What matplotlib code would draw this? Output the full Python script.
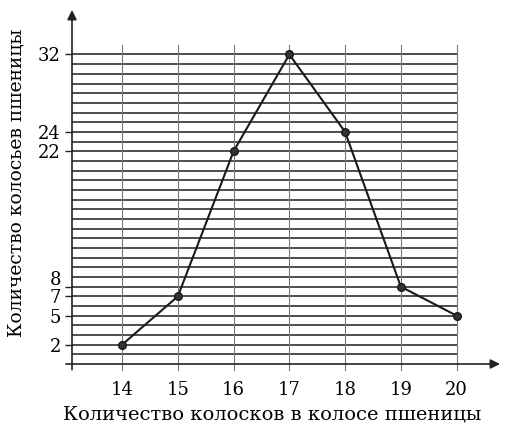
import matplotlib
matplotlib.use("Agg")
import matplotlib.pyplot as plt
import matplotlib.transforms as mtransforms

x_vals = [14, 15, 16, 17, 18, 19, 20]
y_vals = [2, 7, 22, 32, 24, 8, 5]
y_ticks = [2, 5, 7, 8, 22, 24, 32]
grid_levels = list(range(1, 33))
x_label = "Количество колосков в колосе пшеницы"
y_label = "Количество колосьев пшеницы"

W, H = 510, 437
fig = plt.figure(figsize=(W / 100, H / 100), dpi=100)
plt.rcParams['font.family'] = ['DejaVu Serif']
left, right, bottom, top = 72 / W, 500 / W, (H - 364) / H, (H - 10) / H
ax = fig.add_axes([left, bottom, right - left, top - bottom])
x0, x1 = 13.1, 20.78
y0, y1 = 0, 36.6
ax.set_xlim(x0, x1)
ax.set_ylim(y0, y1)
for s in ax.spines.values():
    s.set_visible(False)

# grid
for g in grid_levels:
    ax.plot([x0, x_vals[-1]], [g, g], color="#1e1e1e", lw=1.1, zorder=1)
for xv in x_vals:
    ax.plot([xv, xv], [-0.6, 33], color="#777777", lw=0.8, zorder=1, clip_on=False)

# axes with arrows
ax.annotate("", xy=(x1, 0), xytext=(12.99, 0),
            arrowprops=dict(arrowstyle="-|>", color="#222222", lw=1.2,
                            mutation_scale=14, shrinkA=0, shrinkB=0),
            annotation_clip=False)
ax.annotate("", xy=(x0, y1), xytext=(x0, -0.6),
            arrowprops=dict(arrowstyle="-|>", color="#222222", lw=1.2,
                            mutation_scale=14, shrinkA=0, shrinkB=0),
            annotation_clip=False)

ax.plot(x_vals, y_vals, color="#1a1a1a", lw=1.5, marker="o", markersize=5.5,
        markerfacecolor="#333333", markeredgecolor="#1a1a1a", zorder=3)

ax.set_xticks(x_vals)
ax.set_yticks(y_ticks)
ax.tick_params(axis="x", length=0, pad=12, labelsize=13)
ax.tick_params(axis="y", length=5, width=1.0, color="#222222", pad=3, labelsize=13)

# the label "8" sits slightly above its tick, as in the reference
fig.canvas.draw()
for lbl in ax.get_yticklabels():
    if lbl.get_text() == "8":
        lbl.set_transform(lbl.get_transform() +
                          mtransforms.ScaledTranslation(0, 9 / 100, fig.dpi_scale_trans))

fig.text(272 / W, 1 - 414 / H, x_label, ha="center", va="center", fontsize=14)
fig.text(17 / W, 1 - 183 / H, y_label, ha="center", va="center", rotation=90, fontsize=13.5)

fig.savefig("out.png", dpi=100)
